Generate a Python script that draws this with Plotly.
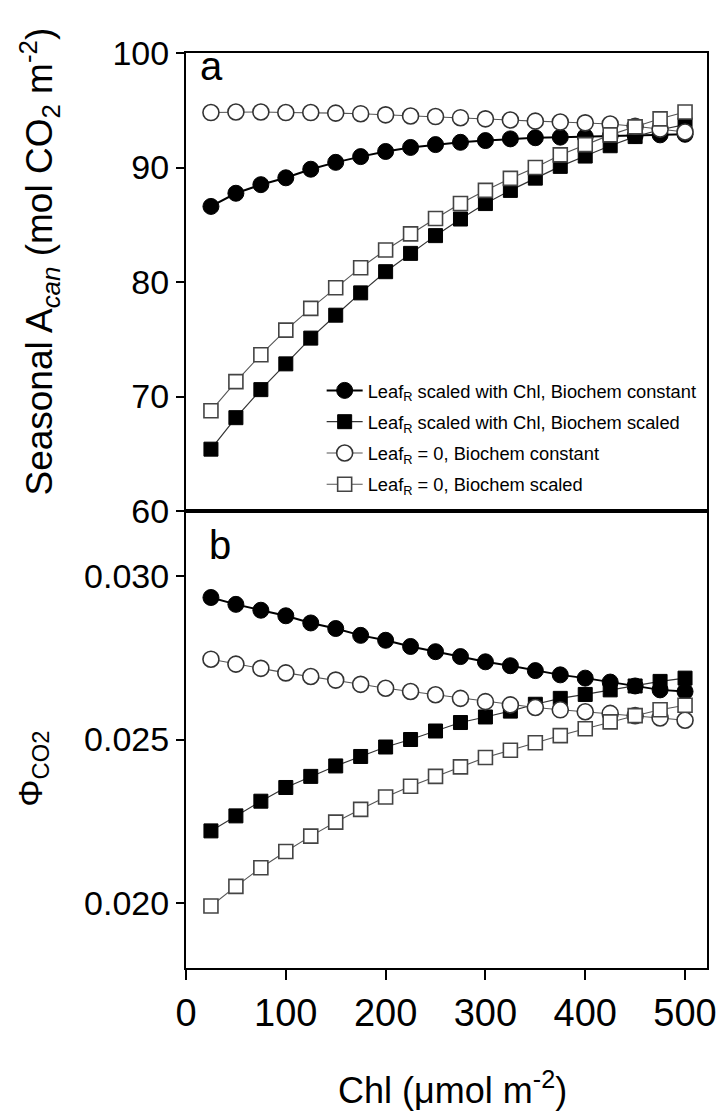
import plotly.graph_objects as go

# ---- data ----
chl = [25, 50, 75, 100, 125, 150, 175, 200, 225, 250, 275, 300, 325, 350, 375, 400, 425, 450, 475, 500]

acan_leafr_const = [86.6, 87.75, 88.5, 89.1, 89.85, 90.45, 90.95, 91.4, 91.75, 92.0,
                    92.2, 92.35, 92.5, 92.6, 92.65, 92.7, 92.75, 92.8, 92.85, 92.9]
acan_leafr_scaled = [65.4, 68.15, 70.6, 72.85, 75.1, 77.1, 79.05, 80.9, 82.5, 84.05,
                     85.5, 86.85, 88.0, 89.07, 90.1, 91.0, 91.9, 92.7, 93.3, 93.75]
acan_zero_const = [94.8, 94.85, 94.85, 94.8, 94.8, 94.75, 94.7, 94.6, 94.5, 94.45,
                   94.35, 94.25, 94.15, 94.05, 93.97, 93.9, 93.8, 93.6, 93.35, 93.1]
acan_zero_scaled = [68.75, 71.3, 73.65, 75.8, 77.7, 79.5, 81.25, 82.8, 84.2, 85.55,
                    86.85, 88.0, 89.05, 90.0, 91.1, 92.0, 92.85, 93.55, 94.25, 94.85]

phi_leafr_const = [0.02935, 0.02914, 0.02896, 0.02879, 0.02857, 0.0284, 0.02819, 0.02804, 0.02785, 0.02769,
                   0.02754, 0.02738, 0.02726, 0.02711, 0.02698, 0.02688, 0.02676, 0.02664, 0.02652, 0.02647]
phi_leafr_scaled = [0.0222, 0.02266, 0.02311, 0.02353, 0.02387, 0.02419, 0.02448, 0.02477, 0.025, 0.02526,
                    0.02552, 0.02569, 0.02587, 0.02608, 0.02626, 0.02638, 0.02652, 0.02664, 0.02678, 0.02688]
phi_zero_const = [0.02746, 0.02731, 0.02718, 0.02704, 0.02693, 0.02682, 0.02669, 0.02657, 0.02647, 0.02637,
                  0.02626, 0.02616, 0.02606, 0.02598, 0.02591, 0.02585, 0.0258, 0.02573, 0.02566, 0.02559]
phi_zero_scaled = [0.0199, 0.0205, 0.02107, 0.02157, 0.02204, 0.02247, 0.02286, 0.02324, 0.02357, 0.02387,
                   0.02416, 0.02445, 0.02467, 0.0249, 0.02512, 0.02533, 0.02554, 0.02573, 0.02591, 0.02605]

series_names = [
    "Leaf<sub>R</sub> scaled with Chl, Biochem constant",
    "Leaf<sub>R</sub> scaled with Chl, Biochem scaled",
    "Leaf<sub>R</sub> = 0, Biochem constant",
    "Leaf<sub>R</sub> = 0, Biochem scaled",
]
x_ticks = [0, 100, 200, 300, 400, 500]
top_ticks = [60, 70, 80, 90, 100]
bottom_ticks = [0.020, 0.025, 0.030]
bottom_ticktext = ["0.020", "0.025", "0.030"]

# ---- layout geometry ----
W, H = 728, 1117
L, R, T, B = 186, 12, 53, 149
PW, PH = W - L - R, H - T - B
split = (968 - 511) / PH

def px2x(px):
    return (px - L) / PW

def py2y(py):
    return (H - B - py) / PH

FONT = "Liberation Sans, Arial, Helvetica, sans-serif"

styles = [
    dict(marker=dict(symbol="circle", size=16, color="black", line=dict(color="black", width=1)),
         line=dict(color="black", width=2)),
    dict(marker=dict(symbol="square", size=14, color="black", line=dict(color="black", width=1)),
         line=dict(color="#333333", width=1.2)),
    dict(marker=dict(symbol="circle", size=16, color="white", line=dict(color="#333333", width=1.6)),
         line=dict(color="#555555", width=1.1)),
    dict(marker=dict(symbol="square", size=14, color="white", line=dict(color="#444444", width=1.6)),
         line=dict(color="#555555", width=1.1)),
]

top_series = [acan_leafr_const, acan_leafr_scaled, acan_zero_const, acan_zero_scaled]
bottom_series = [phi_leafr_const, phi_leafr_scaled, phi_zero_const, phi_zero_scaled]

fig = go.Figure()
for i, (ys, st) in enumerate(zip(top_series, styles)):
    fig.add_trace(go.Scatter(x=chl, y=ys, mode="lines+markers", name=series_names[i],
                             legendgroup=f"g{i}", xaxis="x", yaxis="y",
                             marker=st["marker"], line=st["line"]))
for i, (ys, st) in enumerate(zip(bottom_series, styles)):
    fig.add_trace(go.Scatter(x=chl, y=ys, mode="lines+markers", name=series_names[i],
                             legendgroup=f"g{i}", showlegend=False, xaxis="x2", yaxis="y2",
                             marker=st["marker"], line=st["line"]))

axis_common = dict(showline=True, linecolor="black", linewidth=2, mirror=True,
                   showgrid=False, zeroline=False, tickcolor="black", tickwidth=1.5)

fig.update_layout(
    width=W, height=H,
    margin=dict(l=L, r=R, t=T, b=B),
    paper_bgcolor="white", plot_bgcolor="white",
    font=dict(family=FONT, color="black"),
    xaxis=dict(domain=[0, 1], range=[0, 522], anchor="y", showticklabels=False, ticks="",
               **axis_common),
    xaxis2=dict(domain=[0, 1], range=[0, 522], anchor="y2", ticks="outside", ticklen=10,
                tickvals=x_ticks, tickfont=dict(size=38, family=FONT), **axis_common),
    yaxis=dict(domain=[split, 1], range=[60, 100], anchor="x", ticks="outside", ticklen=8,
               tickvals=top_ticks, tickfont=dict(size=34, family=FONT), **axis_common),
    yaxis2=dict(domain=[0, split], range=[0.018, 0.032], anchor="x2", ticks="outside", ticklen=8,
                tickvals=bottom_ticks, ticktext=bottom_ticktext,
                tickfont=dict(size=34, family=FONT), **axis_common),
    legend=dict(x=px2x(324), y=py2y(372), xanchor="left", yanchor="top",
                bgcolor="rgba(0,0,0,0)", font=dict(size=18.3, family=FONT),
                tracegroupgap=4.5, itemsizing="trace", itemwidth=36),
    showlegend=True,
)

annotations = [
    dict(text="a", x=px2x(212), y=py2y(66), font=dict(size=40)),
    dict(text="b", x=px2x(221), y=py2y(545), font=dict(size=40)),
    dict(text="Seasonal A<sub><i>can</i></sub> (mol CO<sub>2</sub> m<sup>-2</sup>)",
         x=px2x(36), y=py2y(262), textangle=-90, font=dict(size=37)),
    dict(text="\u03a6<sub>CO2</sub>", x=px2x(29), y=py2y(769), textangle=-90, font=dict(size=34)),
    dict(text="Chl (\u03bcmol m<sup>-2</sup>)", x=px2x(457), y=py2y(1088), font=dict(size=36)),
]
for a in annotations:
    a.update(xref="paper", yref="paper", showarrow=False, xanchor="center", yanchor="middle")
    a["font"]["family"] = FONT
    a["font"]["color"] = "black"
fig.update_layout(annotations=annotations)

fig.write_html("out.html")
